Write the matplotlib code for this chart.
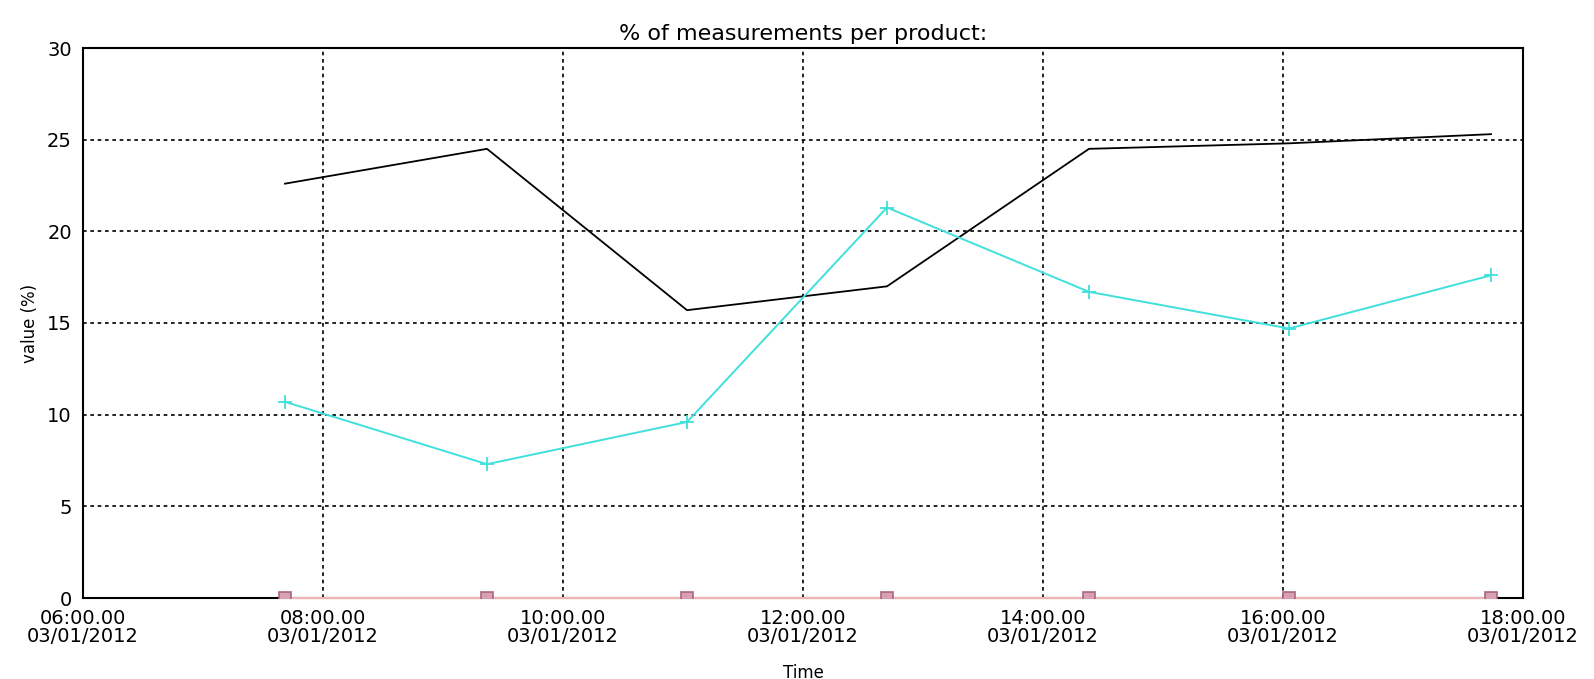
import numpy as np
import matplotlib
matplotlib.use("Agg")
import matplotlib.pyplot as plt
import matplotlib.dates as mdates
from datetime import datetime

# sample times (03/01/2012)
times = ["07:41", "09:22", "11:02", "12:42", "14:23", "16:03", "17:44"]
black_vals = [22.6, 24.5, 15.7, 17.0, 24.5, 24.8, 25.3]
cyan_vals = [10.7, 7.3, 9.6, 21.3, 16.7, 14.7, 17.6]
pink_vals = [0, 0, 0, 0, 0, 0, 0]

x = [datetime.strptime("2012-03-01 " + t, "%Y-%m-%d %H:%M") for t in times]

plt.rcParams['font.family'] = ['DejaVu Sans']

fig = plt.figure(figsize=(15.94, 6.79), dpi=100)
ax = fig.add_axes([83 / 1594, 1 - 598 / 679, 1440 / 1594, 550 / 679])

ax.plot(x, black_vals, color="black", lw=1.3, zorder=3)
ax.plot(x, cyan_vals, color="#40e0dc", lw=1.4, marker="+", ms=10, mew=1.3, zorder=3)
ax.plot(x, pink_vals, color="#f0b4b4", lw=1.5, zorder=4, clip_on=False)
ax.plot(x, pink_vals, ls="none", marker="s", ms=9, mfc="#d8a0b0", mec="#a86880",
        mew=1.2, zorder=4, clip_on=True)

ax.set_xlim(datetime(2012, 3, 1, 6, 0), datetime(2012, 3, 1, 18, 0))
ax.set_ylim(0, 30)
ax.xaxis.set_major_locator(mdates.HourLocator(byhour=range(6, 19, 2)))
ax.xaxis.set_major_formatter(mdates.DateFormatter("%H:%M.%S\n%m/%d/%Y"))
ax.set_yticks(np.arange(0, 31, 5))

ax.grid(True, color="black", ls=(0, (2.2, 2.2)), lw=1.2)
ax.tick_params(length=0, labelsize=14, pad=8)
for lbl in ax.get_xticklabels():
    lbl.set_linespacing(0.9)
for s in ax.spines.values():
    s.set_linewidth(1.5)

ax.set_title("% of measurements per product:", fontsize=16, pad=6)
ax.set_xlabel("Time", fontsize=12, labelpad=13)
ax.set_ylabel("value (%)", fontsize=12, labelpad=6)

fig.savefig("out.png", dpi=100)
